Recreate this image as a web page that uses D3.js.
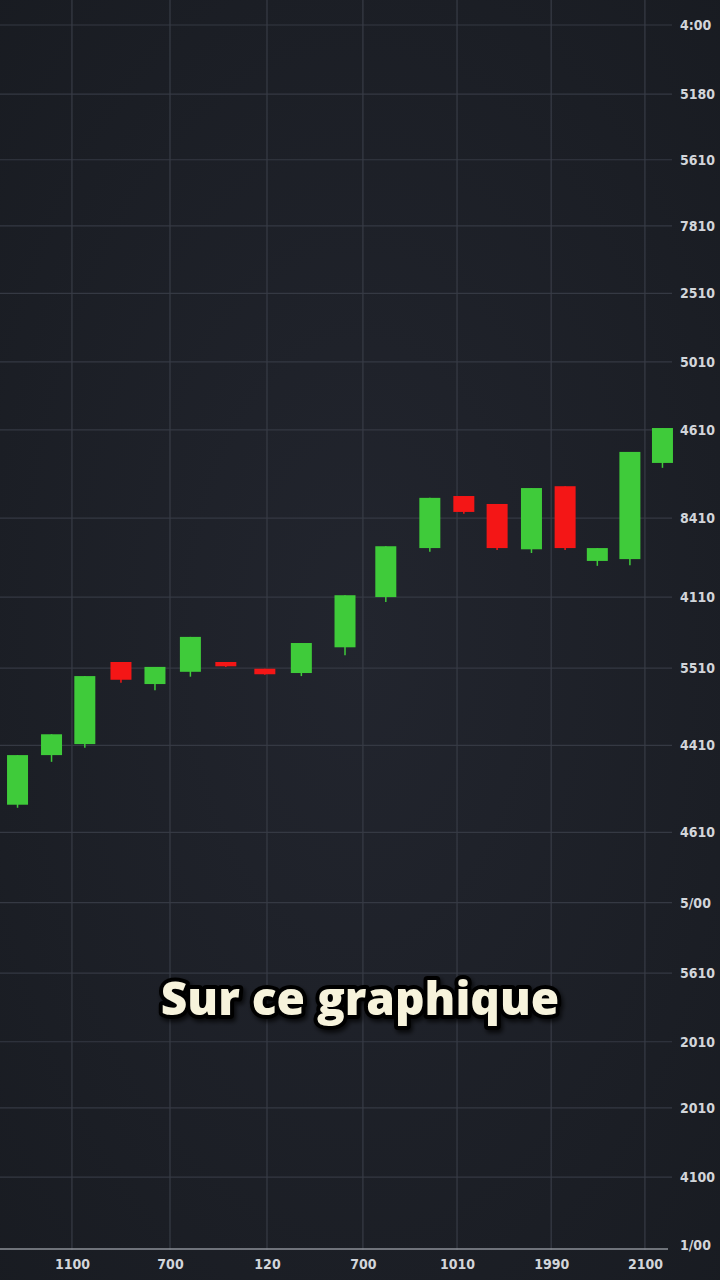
<!DOCTYPE html>
<html><head><meta charset="utf-8">
<script src="https://cdn.jsdelivr.net/npm/d3@7"></script>
<style>html,body{margin:0;padding:0;background:#1c1f27;} svg{display:block}</style>
</head><body><svg id="c" width="720" height="1280"></svg>
<script>
// ---- data ----
const times     = [0.49, 1.44, 2.37, 3.38, 4.33, 5.32, 6.31, 7.40, 8.42, 9.64, 10.78, 12.01, 12.96, 13.89, 14.85, 15.79, 16.69, 17.60, 18.51];
const openVals  = [72.7, 80.8, 82.6, 96.0, 92.4, 94.4, 96.0, 94.9, 94.2, 98.4, 106.6, 114.6, 123.1, 121.8, 114.4, 124.7, 112.5, 112.8, 128.5];
const closeVals = [80.8, 84.2, 93.7, 93.1, 95.2, 100.1, 95.3, 94.0, 99.1, 106.9, 114.9, 122.8, 120.5, 114.6, 124.4, 114.6, 114.6, 130.3, 134.2];
const highVals  = [80.8, 84.2, 93.7, 96.0, 95.2, 100.1, 96.0, 94.9, 99.1, 106.9, 114.9, 122.8, 123.1, 121.8, 124.4, 124.7, 114.6, 130.3, 134.2];
const lowVals   = [72.2, 79.7, 82.0, 92.6, 91.4, 93.6, 95.2, 93.9, 93.7, 97.1, 105.8, 114.0, 120.2, 114.3, 113.8, 114.3, 111.7, 111.8, 127.7];
const gridLevels  = [200, 188.7, 178.0, 167.2, 156.2, 145.0, 133.9, 119.5, 106.6, 95.0, 82.4, 68.2, 56.7, 45.2, 34.0, 23.2, 11.9, 0.8];
const yTickLabels = ["4:00","5180","5610","7810","2510","5010","4610","8410","4110","5510","4410","4610","5/00","5610","2010","2010","4100","1/00"];
const xGridTimes  = [2.01, 4.75, 7.46, 10.14, 12.77, 15.40, 18.02];
const xTickLabels = ["1100","700","120","700","1010","1990","2100"];
const caption = "Sur ce graphique";

// ---- drawing ----
const W = 720, H = 1280;
const svg = d3.select("#c");
const defs = svg.append("defs");
const rg = defs.append("radialGradient").attr("id","bg").attr("cx","50%").attr("cy","50%").attr("r","75%");
rg.append("stop").attr("offset","0%").attr("stop-color","#22252e");
rg.append("stop").attr("offset","100%").attr("stop-color","#181b21");
const sh = defs.append("filter").attr("id","sh").attr("x","-10%").attr("y","-30%").attr("width","120%").attr("height","160%");
sh.append("feDropShadow").attr("dx",2).attr("dy",3).attr("stdDeviation",2).attr("flood-color","#000").attr("flood-opacity",0.7);

svg.append("rect").attr("width",W).attr("height",H).attr("fill","url(#bg)");

const y = d3.scaleLinear().domain([0, 200]).range([1250, 25]);
const x = d3.scaleLinear().domain([0, 19]).range([0, 680]);
const bodyW = 21;
const labelFont = "'Liberation Sans Narrow','DejaVu Sans Condensed',sans-serif";

// horizontal grid + right labels
svg.append("g").selectAll("line").data(gridLevels.slice(0,-1)).join("line")
  .attr("x1",0).attr("x2",672).attr("y1",d=>y(d)).attr("y2",d=>y(d))
  .attr("stroke","#353943").attr("stroke-width",1.2);

const yAxis = d3.axisRight(y).tickValues(gridLevels)
  .tickFormat((d,i) => yTickLabels[i]).tickSize(0).tickPadding(0);
const gy = svg.append("g").attr("transform","translate(680,0)").call(yAxis);
gy.select(".domain").remove();
gy.selectAll("text").attr("fill","#d2d5da").attr("font-size",14).attr("font-weight",700)
  .attr("font-family",labelFont);

// vertical grid + bottom labels
svg.append("g").selectAll("line").data(xGridTimes).join("line")
  .attr("x1",d=>x(d)).attr("x2",d=>x(d)).attr("y1",0).attr("y2",y(0))
  .attr("stroke","#383c46").attr("stroke-width",1.2);

const xAxis = d3.axisBottom(x).tickValues(xGridTimes).tickFormat((d,i) => xTickLabels[i]).tickSize(0).tickPadding(9);
const gx = svg.append("g").attr("transform",`translate(0,${y(0)})`).call(xAxis);
gx.select(".domain").remove();
gx.selectAll("text").attr("fill","#d2d5da").attr("font-size",14).attr("font-weight",700)
  .attr("font-family",labelFont);
svg.append("line").attr("x1",0).attr("x2",668).attr("y1",y(0)-1).attr("y2",y(0)-1)
  .attr("stroke","#8c9098").attr("stroke-width",1.3);

// candles
const idx = d3.range(times.length);
const col = i => closeVals[i] >= openVals[i] ? "#3fcb3a" : "#f41616";
const cg = svg.append("g");
cg.selectAll("line").data(idx).join("line")
  .attr("x1",i=>x(times[i])).attr("x2",i=>x(times[i]))
  .attr("y1",i=>y(highVals[i])).attr("y2",i=>y(lowVals[i]))
  .attr("stroke",col).attr("stroke-width",1.5);
cg.selectAll("rect").data(idx).join("rect")
  .attr("x",i=>x(times[i]) - bodyW/2).attr("width",bodyW)
  .attr("y",i=>y(Math.max(openVals[i],closeVals[i])))
  .attr("height",i=>Math.max(3, Math.abs(y(openVals[i]) - y(closeVals[i]))))
  .attr("fill",col);

// caption
svg.append("text").attr("x",360).attr("y",1015).attr("text-anchor","middle")
  .attr("font-family","'Open Sans', Lato, sans-serif").attr("font-weight",800).attr("font-size",46)
  .attr("fill","#f7f3dc").attr("stroke","#000").attr("stroke-width",8).attr("stroke-linejoin","round")
  .attr("paint-order","stroke").attr("filter","url(#sh)").text(caption);
</script></body></html>
